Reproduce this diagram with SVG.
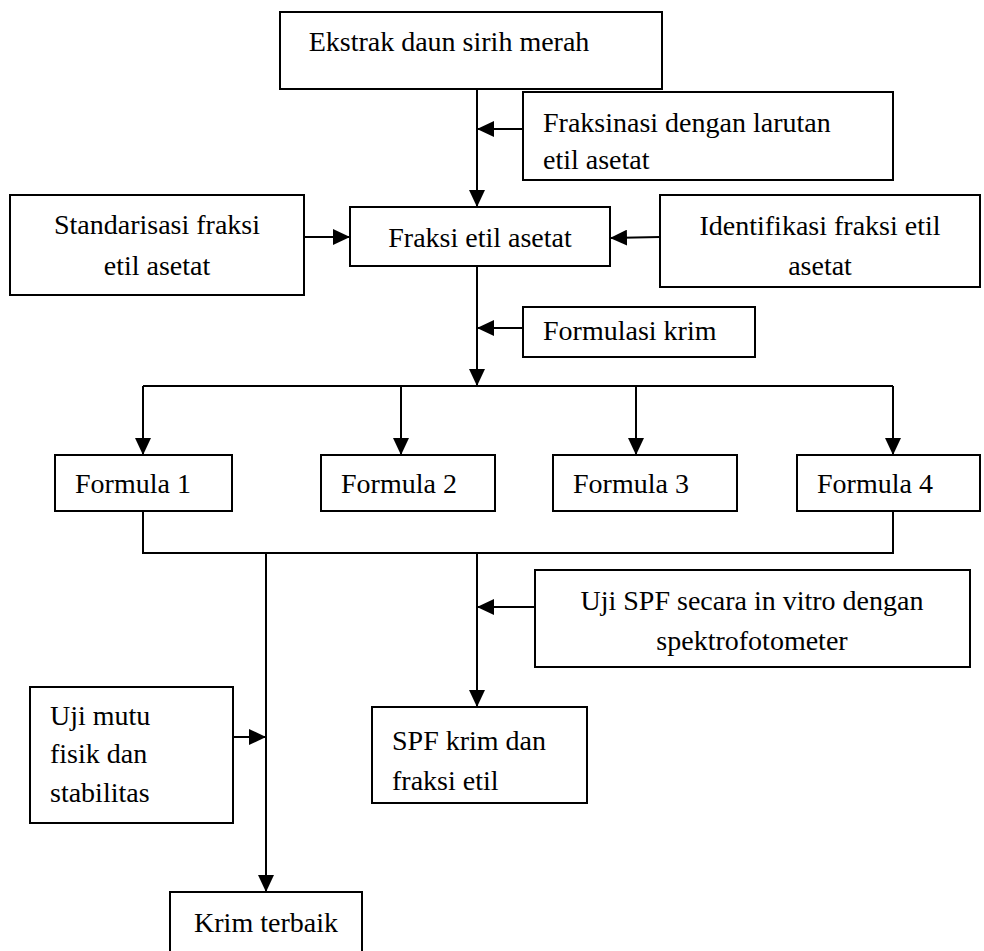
<svg xmlns="http://www.w3.org/2000/svg" width="984" height="951" viewBox="0 0 984 951">
<defs>
<style>
.box{fill:#fff;stroke:#000;stroke-width:2}
.t{font-family:"Liberation Serif","Times New Roman",serif;font-size:28px;fill:#000}
.c{text-anchor:middle}
.ln{fill:none;stroke:#000;stroke-width:2}
</style>
<marker id="ah" markerUnits="userSpaceOnUse" markerWidth="18" markerHeight="16" viewBox="0 0 18 16" refX="17" refY="8" orient="auto">
<path d="M0,0 L17,8 L0,16 Z" fill="#000"/>
</marker>
</defs>
<rect width="984" height="951" fill="#fff"/>
<g id="connectors">
<line class="ln" x1="477" y1="80" x2="477" y2="207" marker-end="url(#ah)"/>
<line class="ln" x1="523" y1="129" x2="477" y2="129" marker-end="url(#ah)"/>
<line class="ln" x1="304" y1="237" x2="350" y2="237" marker-end="url(#ah)"/>
<line class="ln" x1="660" y1="237" x2="610" y2="238" marker-end="url(#ah)"/>
<line class="ln" x1="477" y1="266" x2="477" y2="386" marker-end="url(#ah)"/>
<line class="ln" x1="523" y1="328" x2="477" y2="328" marker-end="url(#ah)"/>
<line class="ln" x1="143" y1="386" x2="893" y2="386"/>
<line class="ln" x1="143" y1="386" x2="143" y2="455" marker-end="url(#ah)"/>
<line class="ln" x1="401" y1="386" x2="401" y2="455" marker-end="url(#ah)"/>
<line class="ln" x1="636" y1="386" x2="636" y2="455" marker-end="url(#ah)"/>
<line class="ln" x1="893" y1="386" x2="893" y2="455" marker-end="url(#ah)"/>
<polyline class="ln" points="143,511 143,553 893,553 893,511"/>
<line class="ln" x1="266" y1="553" x2="266" y2="892" marker-end="url(#ah)"/>
<line class="ln" x1="477" y1="553" x2="477" y2="707" marker-end="url(#ah)"/>
<line class="ln" x1="535" y1="607" x2="477" y2="607" marker-end="url(#ah)"/>
<line class="ln" x1="233" y1="737" x2="266" y2="737" marker-end="url(#ah)"/>
</g>
<g id="ekstrak"><rect class="box" x="280" y="12" width="382" height="77"/><text class="t c" x="449" y="51">Ekstrak daun sirih merah</text></g>
<g id="fraksinasi"><rect class="box" x="523" y="92" width="370" height="88"/><text class="t" x="543" y="132">Fraksinasi dengan larutan</text><text class="t" x="543" y="169">etil asetat</text></g>
<g id="fraksi"><rect class="box" x="350" y="207" width="260" height="59"/><text class="t c" x="480" y="247">Fraksi etil asetat</text></g>
<g id="standarisasi"><rect class="box" x="10" y="195" width="294" height="100"/><text class="t c" x="157" y="234">Standarisasi fraksi</text><text class="t c" x="157" y="275">etil asetat</text></g>
<g id="identifikasi"><rect class="box" x="660" y="195" width="320" height="92"/><text class="t c" x="820" y="235">Identifikasi fraksi etil</text><text class="t c" x="820" y="275">asetat</text></g>
<g id="formulasi"><rect class="box" x="523" y="307" width="232" height="50"/><text class="t" x="543" y="340">Formulasi krim</text></g>
<g id="formula1"><rect class="box" x="55" y="455" width="177" height="56"/><text class="t" x="75" y="493">Formula 1</text></g>
<g id="formula2"><rect class="box" x="321" y="455" width="174" height="56"/><text class="t" x="341" y="493">Formula 2</text></g>
<g id="formula3"><rect class="box" x="553" y="455" width="184" height="56"/><text class="t" x="573" y="493">Formula 3</text></g>
<g id="formula4"><rect class="box" x="797" y="455" width="183" height="56"/><text class="t" x="817" y="493">Formula 4</text></g>
<g id="ujispf"><rect class="box" x="535" y="570" width="435" height="97"/><text class="t c" x="752" y="610">Uji SPF secara in vitro dengan</text><text class="t c" x="752" y="650">spektrofotometer</text></g>
<g id="spfkrim"><rect class="box" x="372" y="707" width="215" height="96"/><text class="t" x="392" y="750">SPF krim dan</text><text class="t" x="392" y="790">fraksi etil</text></g>
<g id="ujimutu"><rect class="box" x="30" y="687" width="203" height="136"/><text class="t" x="50" y="725">Uji mutu</text><text class="t" x="50" y="763">fisik dan</text><text class="t" x="50" y="802">stabilitas</text></g>
<g id="krim"><rect class="box" x="170" y="892" width="192" height="62"/><text class="t c" x="266" y="932">Krim terbaik</text></g>
</svg>
